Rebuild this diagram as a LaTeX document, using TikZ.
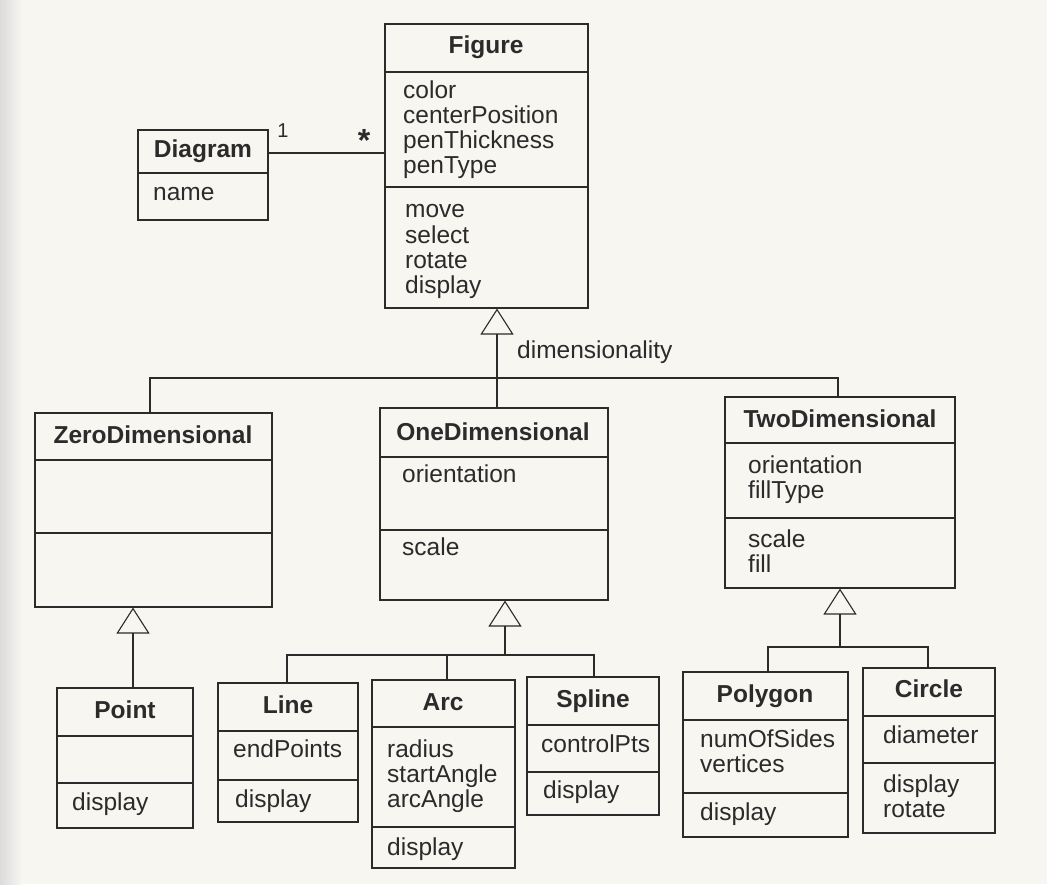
\documentclass[tikz,border=0pt]{standalone}
\usepackage{fontspec}
\setmainfont{Liberation Sans}
\usetikzlibrary{arrows.meta,fit}
\definecolor{ink}{HTML}{2B2B2B}
\definecolor{paper}{HTML}{F8F6F1}
\tikzset{
  ttl/.style={font=\fontsize{24.5}{26}\selectfont\bfseries, text=ink, anchor=base, inner sep=0pt},
  txt/.style={font=\fontsize{24.5}{26}\selectfont, text=ink, anchor=base west, inner sep=0pt},
  conn/.style={draw=ink, line width=1.1pt},
  gen/.style={conn, -{Triangle[open, length=26pt, width=33pt, line width=1.1pt]}},
}
\newcommand\klass[7]{%
  \node[draw=ink, line width=1.1pt, inner sep=0pt, fit={(#2,#3) (#4,#5)}] (#1) {};
  \draw[conn] (#2,#6) -- (#4,#6);
  \draw[conn] (#2,#7) -- (#4,#7);
}
\begin{document}
\begin{tikzpicture}[x=1pt, y=-1pt]
\useasboundingbox (0,0) rectangle (1047,884);
\fill[paper] (0,0) rectangle (1047,884);
\shade[left color=black!14, right color=paper] (0,0) rectangle (22,884);

% Diagram
\node[draw=ink, line width=1.1pt, inner sep=0pt, fit={(138,130) (268,220)}] (diag) {};
\draw[conn] (138,173) -- (268,173);
\node[ttl] (diag-t) at (203,157) {Diagram};
\node[txt] (diag-a1) at (153,200) {name};

% Figure
\klass{fig}{385}{24}{588}{308}{72}{187}
\node[ttl] (fig-t) at (486,53) {Figure};
\node[txt] (fig-a1) at (403,98) {color};
\node[txt] (fig-a2) at (403,123) {centerPosition};
\node[txt] (fig-a3) at (403,148) {penThickness};
\node[txt] (fig-a4) at (403,173) {penType};
\node[txt] (fig-o1) at (405,217) {move};
\node[txt] (fig-o2) at (405,243) {select};
\node[txt] (fig-o3) at (405,268) {rotate};
\node[txt] (fig-o4) at (405,293) {display};

% ZeroDimensional
\klass{zero}{35}{413}{272}{607}{460}{533}
\node[ttl] (zero-t) at (153,443) {ZeroDimensional};

% OneDimensional
\klass{one}{380}{408}{608}{600}{457}{530}
\node[ttl] (one-t) at (493,440) {OneDimensional};
\node[txt] (one-a1) at (402,482) {orientation};
\node[txt] (one-o1) at (402,555) {scale};

% TwoDimensional
\klass{two}{725}{397}{955}{588}{443}{518}
\node[ttl] (two-t) at (840,427) {TwoDimensional};
\node[txt] (two-a1) at (748,473) {orientation};
\node[txt] (two-a2) at (748,498) {fillType};
\node[txt] (two-o1) at (748,547) {scale};
\node[txt] (two-o2) at (748,572) {fill};

% Point
\klass{point}{57}{688}{193}{828}{736}{783}
\node[ttl] (point-t) at (125,718) {Point};
\node[txt] (point-o1) at (72,810) {display};

% Line
\klass{line}{218}{683}{358}{822}{731}{780}
\node[ttl] (line-t) at (288,713) {Line};
\node[txt] (line-a1) at (233,757) {endPoints};
\node[txt] (line-o1) at (235,807) {display};

% Arc
\klass{arc}{372}{680}{515}{868}{727}{827}
\node[ttl] (arc-t) at (443,710) {Arc};
\node[txt] (arc-a1) at (387,757) {radius};
\node[txt] (arc-a2) at (387,782) {startAngle};
\node[txt] (arc-a3) at (387,807) {arcAngle};
\node[txt] (arc-o1) at (387,855) {display};

% Spline
\klass{spline}{527}{677}{659}{815}{725}{772}
\node[ttl] (spline-t) at (593,707) {Spline};
\node[txt] (spline-a1) at (541,752) {controlPts};
\node[txt] (spline-o1) at (543,798) {display};

% Polygon
\klass{poly}{683}{672}{848}{837}{720}{793}
\node[ttl] (poly-t) at (765,702) {Polygon};
\node[txt] (poly-a1) at (700,747) {numOfSides};
\node[txt] (poly-a2) at (700,772) {vertices};
\node[txt] (poly-o1) at (700,820) {display};

% Circle
\klass{circ}{863}{668}{995}{833}{716}{763}
\node[ttl] (circ-t) at (929,697) {Circle};
\node[txt] (circ-a1) at (883,743) {diameter};
\node[txt] (circ-o1) at (883,792) {display};
\node[txt] (circ-o2) at (883,817) {rotate};

% association
\coordinate (assoc) at (300,153);
\draw[conn] (diag.east |- assoc) -- (fig.west |- assoc);
\node[font=\fontsize{20}{22}\selectfont, text=ink, anchor=base, inner sep=0pt] (m1) at (283,137) {1};
\node[font=\fontsize{32}{34}\selectfont\bfseries, text=ink, anchor=base, inner sep=0pt] (m2) at (364,151) {*};

% generalization: dimensionality
\coordinate (b1a) at (150,378);
\coordinate (b1b) at (838,378);
\coordinate (b1m) at (497,378);
\draw[conn] (zero.north -| b1a) -- (b1a) -- (b1b) -- (two.north -| b1b);
\draw[gen] (b1m) -- (fig.south -| b1m);
\draw[conn] (b1m) -- (one.north -| b1m);
\node[txt] (dimlbl) at (517,358) {dimensionality};

% ZeroDimensional -> Point
\coordinate (g2) at (133,650);
\draw[gen] (point.north -| g2) -- (zero.south -| g2);

% OneDimensional children
\coordinate (b3a) at (287,655);
\coordinate (b3b) at (594,655);
\coordinate (b3c) at (447,655);
\coordinate (b3m) at (505,655);
\draw[conn] (line.north -| b3a) -- (b3a) -- (b3b) -- (spline.north -| b3b);
\draw[conn] (b3c) -- (arc.north -| b3c);
\draw[gen] (b3m) -- (one.south -| b3m);

% TwoDimensional children
\coordinate (b4a) at (768,647);
\coordinate (b4b) at (928,647);
\coordinate (b4m) at (840,647);
\draw[conn] (poly.north -| b4a) -- (b4a) -- (b4b) -- (circ.north -| b4b);
\draw[gen] (b4m) -- (two.south -| b4m);
\end{tikzpicture}
\end{document}
